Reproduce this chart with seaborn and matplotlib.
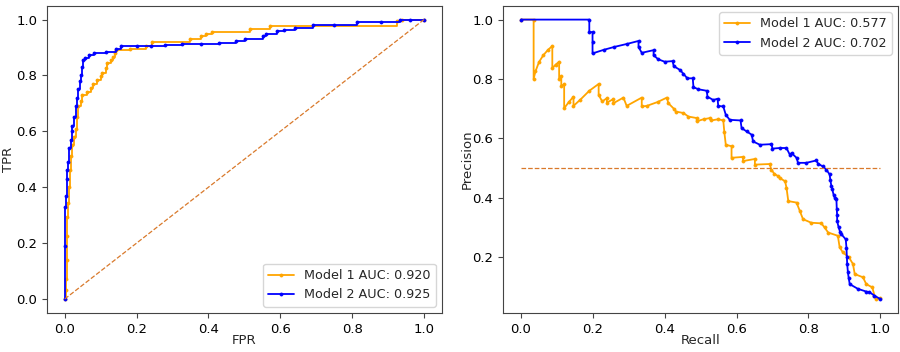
import matplotlib
matplotlib.use("Agg")
import matplotlib.pyplot as plt
import seaborn as sns
import pandas as pd

# ---------------- ROC data ----------------
roc1_fpr = [0.0, 0.003, 0.004, 0.005, 0.006, 0.0075, 0.010, 0.012, 0.015, 0.018,
            0.021, 0.026, 0.031, 0.035, 0.038, 0.044, 0.049, 0.063, 0.072, 0.080,
            0.091, 0.100, 0.105, 0.116, 0.118, 0.128, 0.135, 0.140, 0.144, 0.183,
            0.227, 0.244, 0.350, 0.378, 0.392, 0.410, 0.515, 0.572, 0.925, 0.940,
            1.0]
roc1_tpr = [0.0, 0.033, 0.07, 0.14, 0.224, 0.295, 0.343, 0.40, 0.46, 0.51,
            0.55, 0.58, 0.61, 0.65, 0.69, 0.71, 0.73, 0.742, 0.755, 0.768,
            0.783, 0.798, 0.808, 0.828, 0.843, 0.857, 0.866, 0.879, 0.890, 0.896,
            0.905, 0.920, 0.932, 0.940, 0.948, 0.956, 0.968, 0.977, 0.995, 1.0,
            1.0]
roc2_fpr = [0.0, 0.0, 0.002, 0.004, 0.005, 0.007, 0.010, 0.012, 0.016, 0.019,
            0.021, 0.026, 0.031, 0.035, 0.037, 0.042, 0.044, 0.047, 0.052, 0.055,
            0.068, 0.081, 0.114, 0.142, 0.156, 0.200, 0.240, 0.280, 0.327, 0.380,
            0.430, 0.478, 0.503, 0.553, 0.560, 0.590, 0.609, 0.642, 0.692, 0.750,
            0.813, 0.880, 0.933, 0.960, 1.0]
roc2_tpr = [0.0, 0.19, 0.33, 0.37, 0.43, 0.46, 0.49, 0.54, 0.57, 0.60,
            0.62, 0.65, 0.69, 0.72, 0.75, 0.78, 0.80, 0.83, 0.855, 0.862,
            0.872, 0.880, 0.884, 0.893, 0.905, 0.906, 0.907, 0.908, 0.914, 0.914,
            0.915, 0.922, 0.929, 0.940, 0.950, 0.958, 0.964, 0.971, 0.981, 0.982,
            0.990, 0.990, 0.997, 1.0, 1.0]
roc_labels = ["Model 1 AUC: 0.920", "Model 2 AUC: 0.925"]

# ---------------- PR data ----------------
pr1_rec = [0.000, 0.035, 0.035, 0.040, 0.050, 0.062, 0.075, 0.087, 0.087, 0.096,
           0.106, 0.106, 0.112, 0.112, 0.120, 0.120, 0.133, 0.146, 0.146, 0.165,
           0.190, 0.216, 0.216, 0.226, 0.239, 0.239, 0.257, 0.257, 0.285, 0.294,
           0.336, 0.336, 0.350, 0.380, 0.406, 0.410, 0.425, 0.431, 0.452, 0.466,
           0.489, 0.489, 0.508, 0.526, 0.530, 0.549, 0.563, 0.566, 0.570, 0.586,
           0.586, 0.618, 0.618, 0.651, 0.651, 0.692, 0.697, 0.705, 0.716, 0.720,
           0.735, 0.739, 0.744, 0.767, 0.776, 0.785, 0.808, 0.836, 0.845, 0.855,
           0.882, 0.887, 0.896, 0.913, 0.924, 0.929, 0.952, 0.961, 0.978, 0.984,
           0.989, 1.000]
pr1_prec = [1.000, 1.000, 0.800, 0.825, 0.857, 0.880, 0.898, 0.911, 0.836, 0.848,
            0.858, 0.800, 0.810, 0.776, 0.782, 0.701, 0.722, 0.740, 0.709, 0.730,
            0.760, 0.783, 0.746, 0.724, 0.735, 0.720, 0.732, 0.718, 0.737, 0.709,
            0.737, 0.707, 0.709, 0.722, 0.737, 0.718, 0.700, 0.690, 0.685, 0.673,
            0.668, 0.657, 0.664, 0.668, 0.660, 0.664, 0.660, 0.620, 0.578, 0.573,
            0.534, 0.537, 0.523, 0.530, 0.511, 0.513, 0.494, 0.480, 0.472, 0.466,
            0.455, 0.433, 0.388, 0.383, 0.355, 0.327, 0.315, 0.313, 0.299, 0.282,
            0.271, 0.232, 0.215, 0.198, 0.176, 0.142, 0.131, 0.108, 0.097, 0.069,
            0.058, 0.060]
pr2_rec = [0.000, 0.190, 0.190, 0.199, 0.199, 0.199, 0.230, 0.260, 0.295, 0.327,
           0.327, 0.336, 0.369, 0.369, 0.382, 0.400, 0.422, 0.425, 0.443, 0.452,
           0.463, 0.478, 0.480, 0.494, 0.517, 0.519, 0.535, 0.547, 0.549, 0.563,
           0.570, 0.581, 0.611, 0.614, 0.628, 0.642, 0.646, 0.665, 0.697, 0.700,
           0.720, 0.739, 0.748, 0.753, 0.767, 0.771, 0.794, 0.822, 0.827, 0.840,
           0.850, 0.859, 0.861, 0.864, 0.866, 0.870, 0.873, 0.878, 0.879, 0.880,
           0.880, 0.884, 0.888, 0.892, 0.904, 0.906, 0.907, 0.908, 0.910, 0.912,
           0.915, 0.938, 0.961, 0.970, 0.984, 1.000]
pr2_prec = [1.000, 1.000, 0.958, 0.958, 0.923, 0.886, 0.898, 0.908, 0.918, 0.928,
            0.908, 0.888, 0.897, 0.880, 0.866, 0.858, 0.860, 0.843, 0.830, 0.817,
            0.802, 0.802, 0.772, 0.765, 0.760, 0.740, 0.729, 0.733, 0.709, 0.707,
            0.679, 0.662, 0.660, 0.634, 0.623, 0.612, 0.589, 0.578, 0.580, 0.565,
            0.567, 0.567, 0.545, 0.550, 0.534, 0.517, 0.517, 0.525, 0.514, 0.505,
            0.494, 0.478, 0.460, 0.438, 0.430, 0.410, 0.400, 0.394, 0.360, 0.340,
            0.321, 0.300, 0.285, 0.276, 0.259, 0.230, 0.200, 0.175, 0.148, 0.130,
            0.108, 0.092, 0.083, 0.081, 0.069, 0.058]
pr_labels = ["Model 1 AUC: 0.577", "Model 2 AUC: 0.702"]
pr_baseline = 0.5

colors = ["orange", "blue"]
ref_color = "#d9792b"

sns.set_theme(style="ticks")
FS = 9.5
plt.rcParams.update({
    "font.family": ["DejaVu Sans"],
    "font.size": FS,
    "axes.labelsize": FS,
    "xtick.labelsize": FS,
    "ytick.labelsize": FS,
    "legend.fontsize": 9.2,
    "axes.edgecolor": "#444444",
    "axes.linewidth": 0.8,
    "xtick.color": "#444444",
    "ytick.color": "#444444",
    "xtick.labelcolor": "black",
    "ytick.labelcolor": "black",
    "xtick.major.size": 3.5,
    "ytick.major.size": 3.5,
    "xtick.major.width": 0.8,
    "ytick.major.width": 0.8,
})

fig = plt.figure(figsize=(9, 3.52), dpi=100)
ax1 = fig.add_axes([0.052, 0.111, 0.439, 0.873])
ax2 = fig.add_axes([0.559, 0.111, 0.439, 0.873])

line_kw = dict(marker=".", markersize=4.5, linewidth=1.3,
               markeredgewidth=0.5, sort=False, estimator=None)

# ROC
roc_sets = [(roc1_fpr, roc1_tpr), (roc2_fpr, roc2_tpr)]
for (fx, ty), lab, c in zip(roc_sets, roc_labels, colors):
    df = pd.DataFrame({"FPR": fx, "TPR": ty})
    sns.lineplot(data=df, x="FPR", y="TPR", ax=ax1, color=c, label=lab,
                 markeredgecolor=c, drawstyle="steps-post", **line_kw)
diag = pd.DataFrame({"x": [0.0, 1.0], "y": [0.0, 1.0]})
sns.lineplot(data=diag, x="x", y="y", ax=ax1, color=ref_color,
             linestyle="--", linewidth=0.9, sort=False, estimator=None)
ax1.set_xlabel("FPR")
ax1.set_ylabel("TPR")
ax1.legend(loc="lower right", frameon=True)

# PR
pr_sets = [(pr1_rec, pr1_prec), (pr2_rec, pr2_prec)]
for (rx, py), lab, c in zip(pr_sets, pr_labels, colors):
    df = pd.DataFrame({"Recall": rx, "Precision": py})
    sns.lineplot(data=df, x="Recall", y="Precision", ax=ax2, color=c,
                 label=lab, markeredgecolor=c, **line_kw)
base = pd.DataFrame({"x": [0.0, 1.0], "y": [pr_baseline, pr_baseline]})
sns.lineplot(data=base, x="x", y="y", ax=ax2, color=ref_color,
             linestyle="--", linewidth=0.9, sort=False, estimator=None)
ax2.set_xlabel("Recall")
ax2.set_ylabel("Precision")
ax2.legend(loc="upper right", frameon=True)

for ax in (ax1, ax2):
    ax.set_xticks([0.0, 0.2, 0.4, 0.6, 0.8, 1.0])
    ax.xaxis.set_label_coords(0.5, -0.068)
ax1.set_yticks([0.0, 0.2, 0.4, 0.6, 0.8, 1.0])
ax2.set_yticks([0.2, 0.4, 0.6, 0.8, 1.0])
ax1.yaxis.set_label_coords(-0.080, 0.5)
ax2.yaxis.set_label_coords(-0.074, 0.5)

fig.savefig("out.png", dpi=100)
